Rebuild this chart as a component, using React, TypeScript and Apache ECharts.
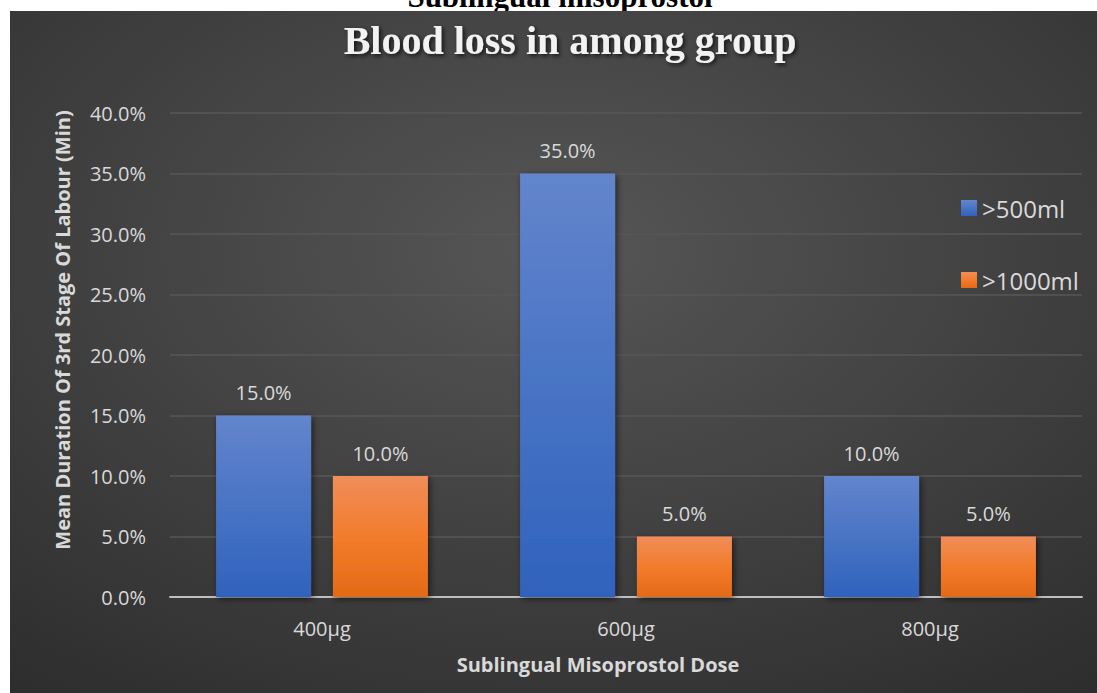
import React, { useEffect, useRef } from "react";
import * as echarts from "echarts";

const categories = ["400µg", "600µg", "800µg"];
const seriesNames = [">500ml", ">1000ml"];
const over500 = [0.15, 0.35, 0.1];
const over1000 = [0.1, 0.05, 0.05];
const yTicks = { min: 0, max: 0.4, interval: 0.05 };

const pct = (v: number) => (v * 100).toFixed(1) + "%";

export default function App() {
  const ref = useRef<HTMLDivElement>(null);
  useEffect(() => {
    if (!ref.current) return;
    const chart = echarts.init(ref.current, undefined, { renderer: "svg" });
    const font = "'Open Sans', 'Noto Sans', sans-serif";
    const blueGrad = new echarts.graphic.LinearGradient(0, 0, 0, 1, [
      { offset: 0, color: "#6385cc" },
      { offset: 1, color: "#2f62bd" },
    ]);
    const orangeGrad = new echarts.graphic.LinearGradient(0, 0, 0, 1, [
      { offset: 0, color: "#f08d5a" },
      { offset: 0.5, color: "#f27c2c" },
      { offset: 1, color: "#e46a16" },
    ]);
    const barShadow = {
      shadowBlur: 6,
      shadowColor: "rgba(0,0,0,0.55)",
      shadowOffsetX: 2,
      shadowOffsetY: 2,
    };
    const label = {
      show: true,
      position: "top",
      distance: 13,
      color: "#d9d9d9",
      fontSize: 20,
      fontFamily: font,
      formatter: (p: any) => pct(p.value),
    };
    chart.setOption({
      animation: false,
      backgroundColor: "#ffffff",
      graphic: [
        {
          type: "text",
          z: -20,
          x: 560,
          y: -4,
          style: {
            text: "Sublingual misoprostol",
            fill: "#000",
            font: "bold 31px 'Liberation Serif', serif",
            align: "center",
            verticalAlign: "middle",
          },
        },
        {
          type: "rect",
          z: -10,
          shape: { x: 10, y: 11, width: 1087, height: 682 },
          style: {
            fill: new echarts.graphic.RadialGradient(0.5, 0.35, 1.0, [
              { offset: 0, color: "#565656" },
              { offset: 0.5, color: "#3d3d3d" },
              { offset: 1, color: "#242424" },
            ]),
          },
        },
        {
          type: "text",
          x: 570,
          y: 40,
          style: {
            text: "Blood loss in among group",
            fill: "#f2f2f2",
            font: "bold 40px 'Liberation Serif', serif",
            align: "center",
            verticalAlign: "middle",
            textShadowColor: "rgba(0,0,0,0.7)",
            textShadowBlur: 4,
            textShadowOffsetX: 2,
            textShadowOffsetY: 2,
          },
        },
        {
          type: "text",
          x: 598,
          y: 664,
          style: {
            text: "Sublingual Misoprostol Dose",
            fill: "#d9d9d9",
            font: `bold 20px ${font}`,
            align: "center",
            verticalAlign: "middle",
          },
        },
        {
          type: "text",
          x: 62,
          y: 330,
          rotation: Math.PI / 2,
          style: {
            text: "Mean Duration Of 3rd Stage Of Labour (Min)",
            fill: "#d9d9d9",
            font: `bold 20px ${font}`,
            align: "center",
            verticalAlign: "middle",
          },
        },
      ],
      legend: {
        orient: "vertical",
        left: 956,
        top: 191,
        itemWidth: 16,
        itemHeight: 16,
        itemGap: 48,
        icon: "rect",
        textStyle: { color: "#d9d9d9", fontSize: 24, fontFamily: font },
        data: seriesNames,
      },
      grid: { left: 170, right: 15, top: 113, bottom: 96 },
      xAxis: {
        type: "category",
        data: categories,
        axisLine: { lineStyle: { color: "#bfbfbf", width: 2 } },
        axisTick: { show: false },
        axisLabel: { color: "#d9d9d9", fontSize: 20, fontFamily: font, margin: 21 },
      },
      yAxis: {
        type: "value",
        min: yTicks.min,
        max: yTicks.max,
        interval: yTicks.interval,
        axisLine: { show: false },
        axisTick: { show: false },
        axisLabel: { color: "#d9d9d9", fontSize: 20, fontFamily: font, margin: 24, formatter: pct },
        splitLine: { lineStyle: { color: "#575757", width: 1.5 } },
      },
      series: [
        {
          name: seriesNames[0],
          type: "bar",
          data: over500,
          barWidth: 95,
          barGap: "23%",
          itemStyle: { color: blueGrad, ...barShadow },
          label,
        },
        {
          name: seriesNames[1],
          type: "bar",
          data: over1000,
          barWidth: 95,
          barGap: "23%",
          itemStyle: { color: orangeGrad, ...barShadow },
          label,
        },
      ],
    });
    return () => chart.dispose();
  }, []);
  return (
    <div
      ref={ref}
      style={{ position: "fixed", left: 0, top: 0, width: 1097, height: 693, background: "#fff" }}
    />
  );
}
